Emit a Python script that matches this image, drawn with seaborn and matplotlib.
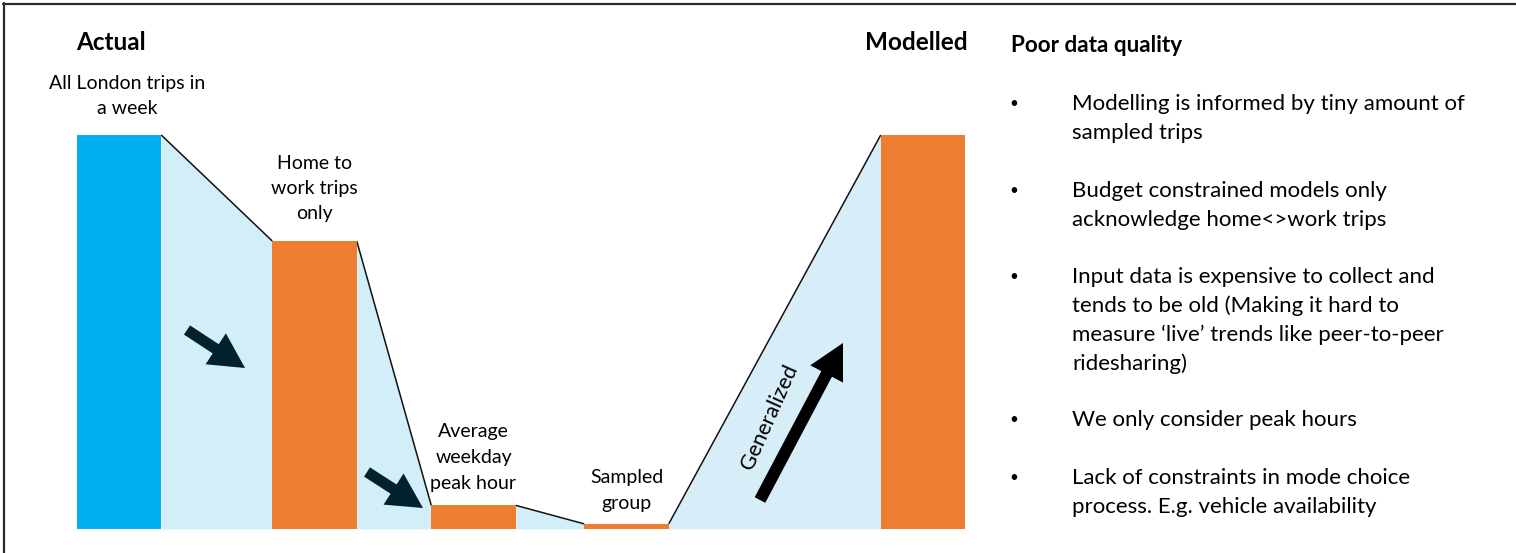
import matplotlib
matplotlib.use("Agg")
import matplotlib.pyplot as plt
from matplotlib.lines import Line2D
import numpy as np
import pandas as pd
import seaborn as sns

# ---------------- data ----------------
stages = ["All London trips in a week", "Home to work trips only",
          "Average weekday peak hour", "Sampled group", "Modelled"]
trip_volume = [100.0, 73.1, 6.0, 1.3, 100.0]   # relative size of each stage
stage_kind = ["Actual", "Filtered", "Filtered", "Filtered", "Modelled"]

label_lines = [["All London trips in", "a week"],
               ["Home to", "work trips", "only"],
               ["Average", "weekday", "peak hour"],
               ["Sampled", "group"]]
heading_left = "Actual"
heading_right = "Modelled"
side_title = "Poor data quality"
bullet_items = [
    ["Modelling is informed by tiny amount of", "sampled trips"],
    ["Budget constrained models only", "acknowledge home<>work trips"],
    ["Input data is expensive to collect and", "tends to be old (Making it hard to",
     "measure \u2018live\u2019 trends like peer-to-peer", "ridesharing)"],
    ["We only consider peak hours"],
    ["Lack of constraints in mode choice", "process. E.g. vehicle availability"],
]
arrow_text = "Generalized"

# ---------------- layout / style ----------------
W, H = 1516, 553
FONT = "Lato"
BLUE, ORANGE = "#00B0F0", "#ED7D31"
FILL = "#D1EEF9"
FILL_LAST = "#D7EDF8"
DARK = "#02212D"
stage_x = [119.0, 314.5, 473.5, 626.5, 923.0]   # horizontal stage positions
bar_w = 84.5
base_px, top_px = 529, 135

sns.set_theme(style="white")
plt.rcParams["font.family"] = [FONT, "DejaVu Sans"]

fig = plt.figure(figsize=(W / 100, H / 100), dpi=100)
fig.patch.set_facecolor("white")

ax = fig.add_axes([0, (H - base_px) / H, 1000 / W, base_px / H])
ax.set_xlim(0, 1000)
ax.set_ylim(0, max(trip_volume) * base_px / (base_px - top_px))
ax.axis("off")

df = pd.DataFrame({"stage": stages, "volume": trip_volume,
                   "kind": stage_kind, "pos": stage_x})

# connectors (light blue funnels) between bars
for i in range(len(df) - 1):
    x0 = df.pos[i] + bar_w / 2
    x1 = df.pos[i + 1] - bar_w / 2
    y0, y1 = df.volume[i], df.volume[i + 1]
    col = FILL_LAST if i == len(df) - 2 else FILL
    ax.fill_between([x0, x1], [y0, y1], 0, color=col, lw=0, zorder=1)
    ax.plot([x0, x1], [y0, y1], color="#111111", lw=1.1, zorder=2,
            solid_capstyle="butt")

min_gap = np.min(np.diff(sorted(stage_x)))
sns.barplot(data=df, x="pos", y="volume", hue="kind", native_scale=True,
            palette={"Actual": BLUE, "Filtered": ORANGE, "Modelled": ORANGE},
            width=bar_w / min_gap, legend=False, linewidth=0, saturation=1,
            ax=ax, zorder=3)
ax.set_xlim(0, 1000)
ax.axis("off")


def fx(px):
    return px / W


def fy(py):
    return 1 - py / H


# headings
fig.text(fx(110.5), fy(42), heading_left, ha="center", va="center",
         fontsize=17.5, fontweight="bold", color="black")
fig.text(fx(916), fy(42), heading_right, ha="center", va="center",
         fontsize=17.5, fontweight="bold", color="black")

# stage labels
label_centers = [127, 314.5, 473.5, 626.5]
label_tops = [83, 163, 432, 478]
for lines, cx, ty in zip(label_lines, label_centers, label_tops):
    for j, line in enumerate(lines):
        fig.text(fx(cx), fy(ty + 25.5 * j), line, ha="center", va="center",
                 fontsize=14, color="black")

# side panel
fig.text(fx(1011), fy(45.5), side_title, ha="left", va="center",
         fontsize=16.2, fontweight="bold", color="black")
bullet_tops = [104, 191, 277, 420, 478]
for item, ty in zip(bullet_items, bullet_tops):
    fig.text(fx(1014), fy(ty), "\u2022", ha="center", va="center",
             fontsize=11, color="black")
    for j, line in enumerate(item):
        fig.text(fx(1072), fy(ty + 29 * j), line, ha="left", va="center",
                 fontsize=16, color="black")

# arrows
def arrow(tail, tip, tw, hw, hl, color):
    ax.annotate("", xy=(tip[0], H - tip[1]), xytext=(tail[0], H - tail[1]),
                xycoords="figure pixels", textcoords="figure pixels",
                arrowprops=dict(arrowstyle=f"simple,head_length={hl / 1.389:.2f},"
                                f"head_width={hw / 1.389:.2f},tail_width={tw / 1.389:.2f}",
                                mutation_scale=1, fc=color, ec="none",
                                shrinkA=0, shrinkB=0), zorder=5)


arrow((187, 330), (245, 368), 11, 37, 35, DARK)
arrow((367, 472), (423, 508), 11, 37, 35, DARK)
arrow((760, 500), (843, 343), 12, 37, 35, "black")

fig.text(fx(769), fy(417), arrow_text, ha="center", va="center",
         rotation=66, rotation_mode="anchor", fontsize=15.5, color="black")

# frame lines (top and left)
fig.add_artist(Line2D([fx(3), 1], [fy(3.5), fy(3.5)], color="#2b2b2b", lw=1.6))
fig.add_artist(Line2D([fx(3.5), fx(3.5)], [fy(3), 0], color="#2b2b2b", lw=1.6))

fig.savefig("out.png", dpi=100, facecolor="white")
